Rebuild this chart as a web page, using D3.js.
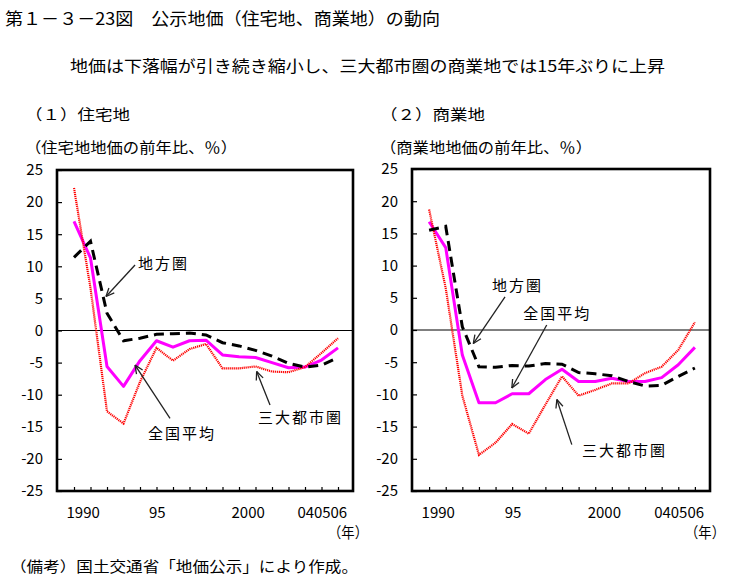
<!DOCTYPE html>
<html><head><meta charset="utf-8">
<script src="https://cdn.jsdelivr.net/npm/d3@7"></script>
<style>
body{margin:0;background:#fff}
svg{display:block}
text{font-family:"Noto Sans CJK JP","Noto Sans",sans-serif;fill:#000}
</style>
</head><body>
<svg id="c" width="734" height="583"></svg>
<script>
// ---------- data ----------
const years = [1990,1991,1992,1993,1994,1995,1996,1997,1998,1999,2000,2001,2002,2003,2004,2005,2006];
const yearLabels = ["1990","","","","","95","","","","","2000","","","","04","05","06"];
const yTicks = [25,20,15,10,5,0,-5,-10,-15,-20,-25];

// (1) 住宅地
const resMetro  = [22.2,6.6,-12.6,-14.5,-8.0,-2.7,-4.7,-2.9,-2.1,-5.9,-5.9,-5.6,-6.4,-6.5,-5.7,-3.5,-1.2];
const resNation = [17.0,11.3,-5.6,-8.7,-4.7,-1.6,-2.6,-1.6,-1.5,-3.8,-4.1,-4.2,-5.0,-5.8,-5.7,-4.6,-2.7];
const resLocal  = [11.4,13.9,2.7,-1.6,-1.2,-0.6,-0.5,-0.4,-0.7,-1.9,-2.4,-3.1,-4.0,-5.1,-5.7,-5.4,-4.2];
// (2) 商業地
const comMetro  = [18.7,6.5,-10.2,-19.4,-17.5,-14.6,-16.1,-11.6,-7.2,-10.2,-9.3,-8.3,-8.3,-6.7,-5.7,-3.1,1.2];
const comNation = [16.8,12.8,-3.9,-11.3,-11.3,-9.9,-9.9,-7.7,-6.1,-8.0,-8.0,-7.5,-8.0,-8.0,-7.4,-5.4,-2.7];
const comLocal  = [15.5,16.1,0.5,-5.7,-5.8,-5.5,-5.6,-5.2,-5.3,-6.6,-6.8,-7.1,-8.0,-8.7,-8.6,-7.2,-5.9];

const seriesNames = ["三大都市圏","全国平均","地方圏"];

// annotations (in data units: year, value)
const resNotes = [
  {label:"地方圏",   tx:1993.88, tv:9.6,   ax:1993.70, av:10.2,  hx:1991.94, hv:5.3},
  {label:"全国平均", tx:1994.48, tv:-16.9, ax:1995.82, av:-13.7, hx:1993.70, hv:-5.4},
  {label:"三大都市圏",tx:2001.15, tv:-14.4, ax:2001.88, av:-11.6, hx:2001.07, hv:-6.4}
];
const comNotes = [
  {label:"地方圏",   tx:1993.79, tv:6.0,   ax:1994.57, av:5.15,  hx:1992.66, hv:-2.1},
  {label:"全国平均", tx:1995.66, tv:1.7,   ax:1997.08, av:0.77,  hx:1994.98, hv:-9.0},
  {label:"三大都市圏",tx:1999.21, tv:-19.5, ax:1998.59, av:-17.8, hx:1997.69, hv:-10.8}
];

// ---------- drawing ----------
const svg = d3.select("#c");

function txt(s, x, y, size, len, anchor){
  const t = svg.append("text").attr("x",x).attr("y",y)
    .style("font-size",size+"px").attr("text-anchor",anchor||"start").text(s);
  if(len) t.attr("textLength",len).attr("lengthAdjust","spacingAndGlyphs");
  return t;
}

txt("第１－３－23図　公示地価（住宅地、商業地）の動向", 5, 25, 17, 435);
txt("地価は下落幅が引き続き縮小し、三大都市圏の商業地では15年ぶりに上昇", 70, 72, 16, 595);
txt("（備考）国土交通省「地価公示」により作成。", 10, 572, 14.5, 348);

function panel(opt){
  const {x0,x1,y0,y1,head,sub,metro,nation,local,notes} = opt;
  const x = d3.scaleLinear().domain([1989,2007]).range([x0+0.5, x1+1.5]);
  const y = d3.scaleLinear().domain([-25,25]).range([y1,y0]);
  const g = svg.append("g");

  txt(head, x0-32, 120, 15, 105);
  txt(sub, x0-32, 153, 15, 212);

  // x axis
  const xa = g.append("g").attr("transform",`translate(0,${y1})`)
    .call(d3.axisBottom(x).tickValues(years).tickSizeInner(-4).tickSizeOuter(0).tickPadding(16)
      .tickFormat((d,i)=>yearLabels[i]));
  xa.select(".domain").remove();
  xa.selectAll(".tick line").attr("stroke","#000").attr("stroke-width",1.2);
  xa.selectAll(".tick text").attr("text-anchor","start").attr("dx",-8)
    .style("font-size","15px").style("font-family",'"Noto Sans CJK JP",sans-serif').attr("fill","#000");

  // y axis
  const ya = g.append("g").attr("transform",`translate(${x0},0)`)
    .call(d3.axisLeft(y).tickValues(yTicks).tickSizeInner(-5).tickSizeOuter(0).tickPadding(14)
      .tickFormat(d=>String(d)));
  ya.select(".domain").remove();
  ya.selectAll(".tick line").attr("stroke","#000").attr("stroke-width",1.2);
  ya.selectAll(".tick text").style("font-size","15px")
    .style("font-family",'"Noto Sans CJK JP",sans-serif').attr("fill","#000");

  // zero line
  g.append("line").attr("x1",x0).attr("x2",x1).attr("y1",y(0)).attr("y2",y(0))
    .attr("stroke","#000").attr("stroke-width",1);

  const line = d3.line().x((d,i)=>x(years[i])).y(d=>y(d));
  g.append("path").datum(nation).attr("d",line).attr("fill","none")
    .attr("stroke","#ff00ff").attr("stroke-width",3).attr("stroke-linejoin","round");
  g.append("path").datum(metro).attr("d",line).attr("fill","none")
    .attr("stroke","#ff0000").attr("stroke-width",2.2).attr("stroke-dasharray","1.2,0.8");
  g.append("path").datum(local).attr("d",line).attr("fill","none")
    .attr("stroke","#000").attr("stroke-width",3).attr("stroke-dasharray","10,6");

  // box
  g.append("rect").attr("x",x0).attr("y",y0).attr("width",x1-x0).attr("height",y1-y0)
    .attr("fill","none").attr("stroke","#000").attr("stroke-width",2.6);

  // year unit
  txt("（年）", x1-25, 538, 15, 40);

  // annotations
  notes.forEach(n=>{
    g.append("text").attr("x",x(n.tx)).attr("y",y(n.tv)).style("font-size","15px")
      .style("letter-spacing","2px").text(n.label);
    const ax=x(n.ax), ay=y(n.av), hx=x(n.hx), hy=y(n.hv);
    g.append("line").attr("x1",ax).attr("y1",ay).attr("x2",hx).attr("y2",hy)
      .attr("stroke","#222").attr("stroke-width",1.3);
    const ang = Math.atan2(ay-hy, ax-hx), L=9, sp=0.42;
    [ang-sp, ang+sp].forEach(a=>{
      g.append("line").attr("x1",hx).attr("y1",hy)
        .attr("x2",hx+L*Math.cos(a)).attr("y2",hy+L*Math.sin(a))
        .attr("stroke","#222").attr("stroke-width",1.3);
    });
  });
}

panel({x0:57,x1:353,y0:170,y1:491,head:"（１）住宅地",sub:"（住宅地地価の前年比、％）",
  metro:resMetro,nation:resNation,local:resLocal,notes:resNotes});
panel({x0:412,x1:710,y0:169,y1:491,head:"（２）商業地",sub:"（商業地地価の前年比、％）",
  metro:comMetro,nation:comNation,local:comLocal,notes:comNotes});
</script>
</body></html>
